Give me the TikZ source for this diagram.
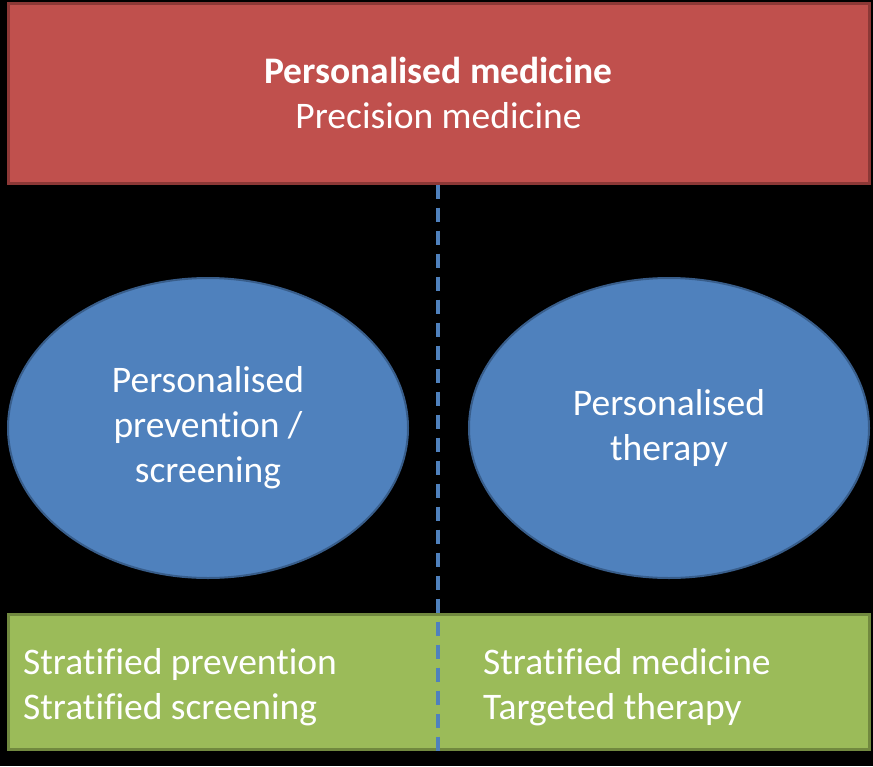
\documentclass[tikz,border=0pt]{standalone}
\usepackage{fontspec}
\setmainfont[Ligatures=NoCommon]{Carlito}
\usetikzlibrary{positioning, shapes.geometric}

\definecolor{medred}{HTML}{C0504D}
\definecolor{medredline}{HTML}{8C3836}
\definecolor{medblue}{HTML}{4F81BD}
\definecolor{medblueline}{HTML}{385D8A}
\definecolor{medgreen}{HTML}{9BBB59}
\definecolor{medgreenline}{HTML}{71893F}

\tikzset{
  bigtext/.style={text=white, font=\fontsize{37.5}{45}\selectfont},
  topbox/.style={rectangle, fill=medred, draw=medredline, line width=3pt,
    minimum width=861pt, minimum height=180pt, inner sep=0pt, align=center, bigtext},
  areaoval/.style={ellipse, fill=medblue, draw=medblueline, line width=2pt,
    minimum width=400pt, minimum height=300pt, inner sep=0pt, align=center, bigtext},
  basebox/.style={rectangle, fill=medgreen, draw=medgreenline, line width=3pt,
    minimum width=861pt, minimum height=135pt, inner sep=0pt},
  basetext/.style={anchor=west, inner sep=0pt, align=left, bigtext},
  divider/.style={draw=medblue, line width=3.5pt, dash pattern=on 14pt off 9pt}
}

\begin{document}
\begin{tikzpicture}[x=1pt, y=-1pt]

% background and page size
\fill[black] (0,0) rectangle (873,766);
\useasboundingbox (0,0) rectangle (873,766);

% top box
\node[topbox] (top) at (438.5,93)
  {\textbf{Personalised medicine}\\Precision medicine};

% the two ovals
\node[areaoval] (prevention) at (208,428) {Personalised\\prevention /\\screening};
\node[areaoval] (therapy) at (669,428) {Personalised\\therapy};

% bottom box
\node[basebox] (base) at (438.5,682) {};
\node[basetext] (stratprev) at (23,687) {Stratified prevention\\Stratified screening};
\node[basetext] (stratmed) at (483,687) {Stratified medicine\\Targeted therapy};

% dashed divider
\coordinate (divend) at (438,758);
\draw[divider] (top.south -| divend) -- (divend);

\end{tikzpicture}
\end{document}
